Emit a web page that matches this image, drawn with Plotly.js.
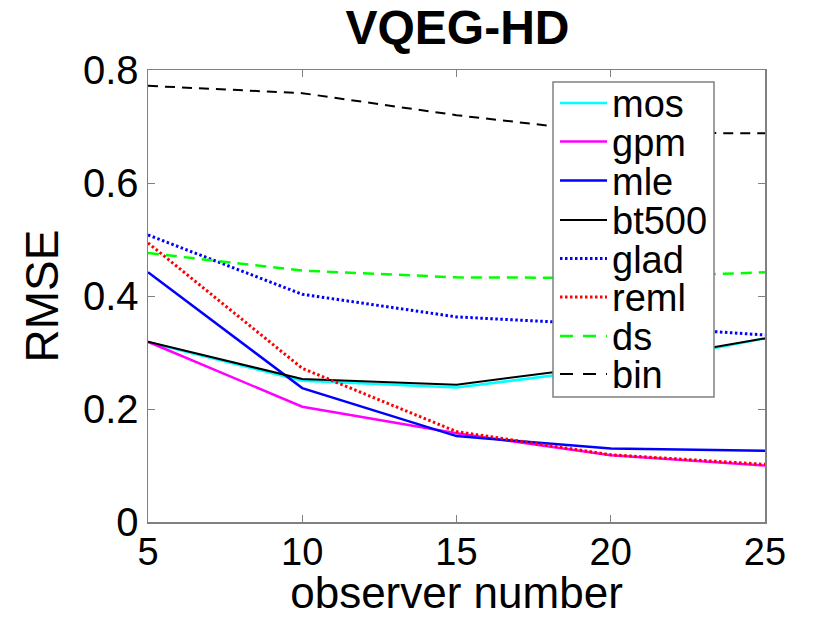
<!DOCTYPE html>
<html>
<head>
<meta charset="utf-8">
<script src="https://cdn.plot.ly/plotly-3.0.1.min.js"></script>
<style>html,body{margin:0;padding:0;background:#fff;}#chart{width:815px;height:617px;}</style>
</head>
<body>
<div id="chart"></div>
<script>
const observers = [5, 10, 15, 20, 25];
const mos   = [0.318, 0.250, 0.238, 0.272, 0.325];
const gpm   = [0.319, 0.204, 0.157, 0.118, 0.100];
const mle   = [0.442, 0.237, 0.152, 0.130, 0.126];
const bt500 = [0.319, 0.253, 0.243, 0.278, 0.325];
const glad  = [0.508, 0.403, 0.363, 0.349, 0.331];
const reml  = [0.494, 0.272, 0.160, 0.119, 0.102];
const ds    = [0.476, 0.445, 0.433, 0.432, 0.442];
const bin   = [0.772, 0.759, 0.720, 0.689, 0.688];

const seriesNames = ['mos','gpm','mle','bt500','glad','reml','ds','bin'];
const seriesData = [mos, gpm, mle, bt500, glad, reml, ds, bin];
const styles = [
  {color:'#00ffff', dash:'solid', width:2.5},
  {color:'#ff00ff', dash:'solid', width:2.5},
  {color:'#0000ff', dash:'solid', width:2.5},
  {color:'#000000', dash:'solid', width:2},
  {color:'#0000ff', dash:'2.5px,2.5px', width:3},
  {color:'#ff0000', dash:'2.5px,2.5px', width:3},
  {color:'#00ff00', dash:'11px,7px', width:2.5},
  {color:'#000000', dash:'10px,7px', width:2}
];

const traces = seriesNames.map((n, i) => ({
  x: observers, y: seriesData[i], name: n, type: 'scatter', mode: 'lines',
  line: styles[i], showlegend: false
}));

// plot area in pixels
const PL = 148, PR = 765, PT = 70, PB = 522;
const px = v => (v - PL) / (PR - PL);
const py = v => (PB - v) / (PB - PT);

const FAM = 'Liberation Sans, Arial, Helvetica, sans-serif';
const shapes = [{
  type: 'rect', xref: 'paper', yref: 'paper', layer: 'above',
  x0: px(553), x1: px(714), y0: py(397), y1: py(82),
  fillcolor: '#ffffff', line: {color: '#808080', width: 1.5}
}];
const annotations = [];
const itemY = [103, 141.5, 180.5, 220, 258.5, 297, 336, 374];
seriesNames.forEach((n, i) => {
  const st = styles[i];
  let dash = st.dash;
  if (dash.indexOf('7px') >= 0) dash = '13px,10px';
  shapes.push({
    type: 'line', xref: 'paper', yref: 'paper', layer: 'above',
    x0: px(560), x1: px(607), y0: py(itemY[i]), y1: py(itemY[i]),
    line: {color: st.color, width: st.width, dash: dash}
  });
  annotations.push({
    xref: 'paper', yref: 'paper', x: px(610), y: py(itemY[i] + 1),
    xanchor: 'left', yanchor: 'middle', showarrow: false, text: n,
    font: {size: 38, family: FAM, color: '#000'}
  });
});

const layout = {
  width: 815, height: 617,
  margin: {l: PL, r: 815 - PR, t: PT, b: 617 - PB},
  paper_bgcolor: '#fff', plot_bgcolor: '#fff',
  font: {family: FAM, color: '#000'},
  title: {text: '<b>VQEG-HD</b>', font: {size: 48, family: FAM, color: '#000'},
          x: 457.5 / 815, xanchor: 'center', y: 1 - 27 / 617, yanchor: 'middle'},
  xaxis: {
    range: [5, 25], tickvals: [5, 10, 15, 20, 25], ticktext: ['5','10','15','20','25'],
    ticks: 'inside', ticklen: 7, tickcolor: '#808080', linecolor: '#808080', linewidth: 1.5,
    mirror: 'allticks', showline: true, showgrid: false, zeroline: false,
    tickfont: {size: 38, family: FAM, color: '#000'}, ticklabelstandoff: -4,
    title: {text: 'observer number', font: {size: 44, family: FAM, color: '#000'}, standoff: 15}
  },
  yaxis: {
    range: [0, 0.8], tickvals: [0, 0.2, 0.4, 0.6, 0.8], ticktext: ['0','0.2','0.4','0.6','0.8'],
    ticks: 'inside', ticklen: 7, tickcolor: '#808080', linecolor: '#808080', linewidth: 1.5,
    mirror: 'allticks', showline: true, showgrid: false, zeroline: false,
    tickfont: {size: 40, family: FAM, color: '#000'},
    title: {text: 'RMSE', font: {size: 46, family: FAM, color: '#000'}, standoff: 10}
  },
  showlegend: false,
  shapes: shapes,
  annotations: annotations
};

Plotly.newPlot('chart', traces, layout, {displayModeBar: false, staticPlot: true});
</script>
</body>
</html>
